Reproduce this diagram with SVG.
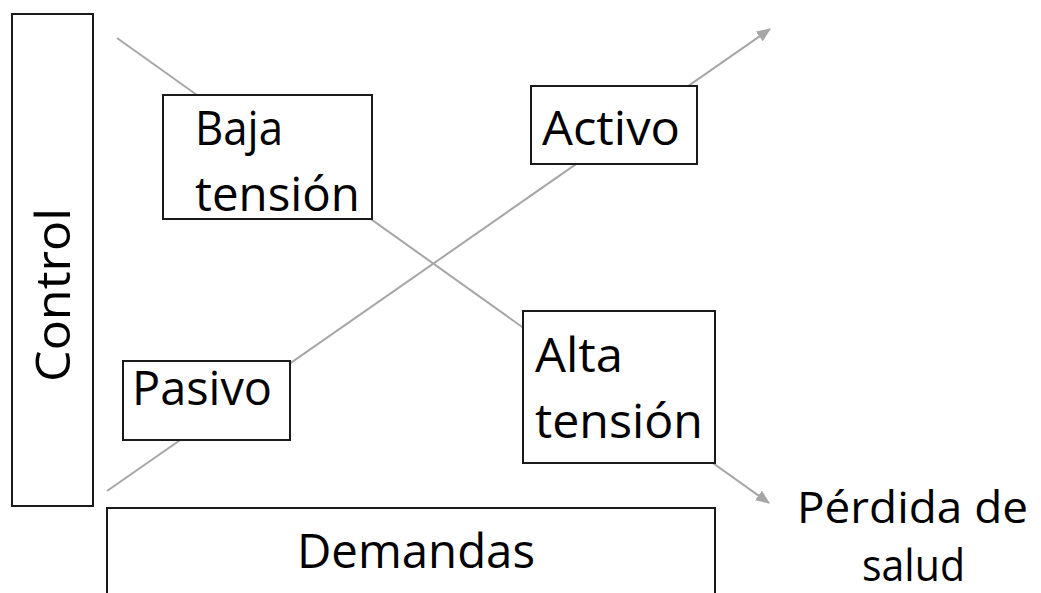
<svg xmlns="http://www.w3.org/2000/svg" width="1041" height="593" viewBox="0 0 1041 593">
  <defs>
    <style>
      .box { fill: #ffffff; stroke: #1a1a1a; stroke-width: 2; }
      .axis { stroke: #a6a6a6; stroke-width: 2; fill: none; }
      .lbl { font-family: "Open Sans", "Liberation Sans", sans-serif; font-size: 47px; fill: #000000; }
      .out { font-size: 44px; }
    </style>
    <marker id="arrow" markerUnits="userSpaceOnUse" markerWidth="14" markerHeight="12" refX="13" refY="6" orient="auto">
      <path d="M0,0 L14,6 L0,12 Z" fill="#a6a6a6"/>
    </marker>
  </defs>

  <rect width="1041" height="593" fill="#ffffff"/>

  <!-- diagonal trend lines, drawn beneath the boxes -->
  <g id="connectors">
    <line class="axis" x1="107" y1="491" x2="770" y2="29" marker-end="url(#arrow)"/>
    <line class="axis" x1="117" y1="38" x2="769" y2="503" marker-end="url(#arrow)"/>
  </g>

  <g id="control">
    <rect class="box" x="12" y="14" width="81" height="492"/>
    <text class="lbl" transform="translate(70,382) rotate(-90)" textLength="174" lengthAdjust="spacingAndGlyphs">Control</text>
  </g>

  <g id="demandas">
    <rect class="box" x="107" y="508" width="608" height="100"/>
    <text class="lbl" x="297" y="568" textLength="238" lengthAdjust="spacingAndGlyphs">Demandas</text>
  </g>

  <g id="baja-tension">
    <rect class="box" x="163" y="95" width="209" height="124"/>
    <text class="lbl" x="195" y="145" textLength="88" lengthAdjust="spacingAndGlyphs">Baja</text>
    <text class="lbl" x="195" y="211" textLength="165" lengthAdjust="spacingAndGlyphs">tensión</text>
  </g>

  <g id="activo">
    <rect class="box" x="531" y="86" width="166" height="78"/>
    <text class="lbl" x="542" y="145" textLength="138" lengthAdjust="spacingAndGlyphs">Activo</text>
  </g>

  <g id="pasivo">
    <rect class="box" x="123" y="361" width="167" height="79"/>
    <text class="lbl" x="132" y="405" textLength="140" lengthAdjust="spacingAndGlyphs">Pasivo</text>
  </g>

  <g id="alta-tension">
    <rect class="box" x="523" y="311" width="192" height="152"/>
    <text class="lbl" x="535" y="372" textLength="88" lengthAdjust="spacingAndGlyphs">Alta</text>
    <text class="lbl" x="535" y="438" textLength="168" lengthAdjust="spacingAndGlyphs">tensión</text>
  </g>

  <g id="perdida-salud">
    <text class="lbl out" x="797" y="523" textLength="231" lengthAdjust="spacingAndGlyphs">Pérdida de</text>
    <text class="lbl out" x="862" y="581" textLength="103" lengthAdjust="spacingAndGlyphs">salud</text>
  </g>
</svg>
